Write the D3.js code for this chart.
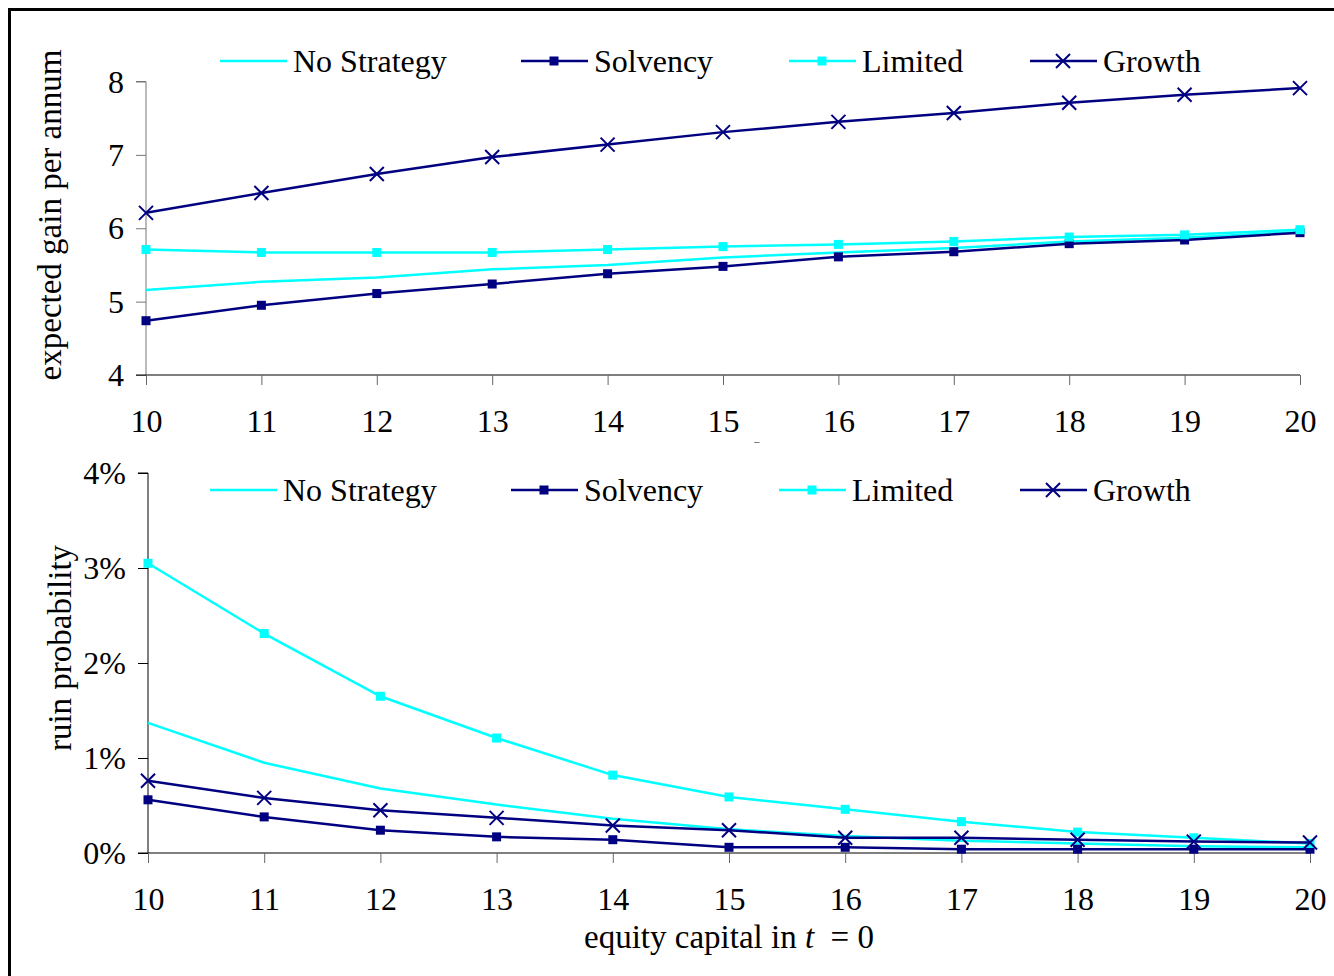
<!DOCTYPE html>
<html lang="en">
<head>
<meta charset="UTF-8">
<title>gain and ruin</title>
<script src="https://cdn.jsdelivr.net/npm/d3@7"></script>
<style>
    body { margin: 0; background: #fff; }
    text { font-family: "Liberation Serif", "Times New Roman", serif; fill: #000; }
    .tick text { font-size: 32px; }
</style>
</head>
<body>
<svg class="chart"></svg>
<script>
    // data
    var capital = [10, 11, 12, 13, 14, 15, 16, 17, 18, 19, 20]
    var seriesNames = ["No Strategy", "Solvency", "Limited", "Growth"]

    // expected gain per annum
    var gainNoStrategy = [5.16, 5.27, 5.33, 5.44, 5.50, 5.60, 5.67, 5.73, 5.82, 5.87, 5.95]
    var gainSolvency   = [4.74, 4.95, 5.11, 5.24, 5.38, 5.48, 5.61, 5.68, 5.79, 5.84, 5.94]
    var gainLimited    = [5.71, 5.67, 5.67, 5.67, 5.71, 5.75, 5.78, 5.82, 5.88, 5.91, 5.98]
    var gainGrowth     = [6.21, 6.48, 6.74, 6.97, 7.14, 7.31, 7.45, 7.57, 7.71, 7.82, 7.91]
    var gainTicks = [4, 5, 6, 7, 8]

    // ruin probability (%)
    var ruinNoStrategy = [1.37, 0.95, 0.68, 0.51, 0.36, 0.25, 0.18, 0.13, 0.10, 0.07, 0.06]
    var ruinSolvency   = [0.56, 0.38, 0.24, 0.17, 0.14, 0.06, 0.06, 0.04, 0.04, 0.04, 0.04]
    var ruinLimited    = [3.05, 2.31, 1.65, 1.21, 0.82, 0.59, 0.46, 0.33, 0.22, 0.16, 0.10]
    var ruinGrowth     = [0.76, 0.58, 0.45, 0.37, 0.29, 0.24, 0.16, 0.16, 0.14, 0.12, 0.11]
    var ruinTicks = [0, 1, 2, 3, 4]

    var cyan = "#00ffff", navy = "#000080"
    var styles = {
        "No Strategy": {color: cyan, marker: "none"},
        "Solvency": {color: navy, marker: "square"},
        "Limited": {color: cyan, marker: "square"},
        "Growth": {color: navy, marker: "cross"}
    }

    var W = 1334, H = 976
    var svg = d3.select(".chart").attr("width", W).attr("height", H)

    function drawMarker(g, type, x, y, color) {
        if (type == "square") {
            g.append("rect").attr("x", x - 4.5).attr("y", y - 4.5)
                .attr("width", 9).attr("height", 9).attr("fill", color)
        } else if (type == "cross") {
            var s = 7
            g.append("path")
                .attr("d", "M" + (x - s) + "," + (y - s) + "L" + (x + s) + "," + (y + s) +
                    "M" + (x - s) + "," + (y + s) + "L" + (x + s) + "," + (y - s))
                .attr("stroke", color).attr("stroke-width", 2).attr("fill", "none")
        }
    }

    function panel(opt) {
        var g = svg.append("g")

        var x = d3.scaleLinear().domain([10, 20]).range([opt.left, opt.right])
        var y = d3.scaleLinear().domain(opt.yDomain).range([opt.bottom, opt.top])

        // y axis
        var yAxis = d3.axisLeft(y).tickValues(opt.yTicks).tickSize(10).tickPadding(12)
            .tickFormat(opt.yFormat)
        var ya = g.append("g").attr("transform", "translate(" + opt.left + ",0)").call(yAxis)
        ya.selectAll("path, line").attr("stroke", opt.yAxisColor)
        ya.select(".domain").attr("d", "M-10," + opt.top + "H0V" + opt.bottom)
        ya.selectAll("text").attr("font-family", null).attr("font-size", null).attr("dy", "0.33em")

        // x axis
        var xAxis = d3.axisBottom(x).tickValues(capital).tickSize(10).tickPadding(24)
            .tickSizeOuter(0).tickFormat(d3.format("d"))
        var xa = g.append("g").attr("transform", "translate(0," + opt.bottom + ")").call(xAxis)
        xa.select(".domain").attr("stroke", "#000").attr("d", "M" + (opt.left - 10) + ",0H" + opt.right)
        xa.selectAll(".tick line").attr("stroke", "#666")
        xa.selectAll("text").attr("font-family", null).attr("font-size", null)

        // y title
        g.append("text")
            .attr("transform", "translate(" + opt.titleX + "," + opt.titleY + ") rotate(-90)")
            .attr("text-anchor", "middle")
            .style("font-size", "33px")
            .text(opt.yTitle)

        // lines
        var line = d3.line()
            .x(function (d, i) { return x(capital[i]) })
            .y(function (d) { return y(d) })

        opt.series.forEach(function (vals, k) {
            var st = styles[seriesNames[k]]
            g.append("path").datum(vals)
                .attr("d", line).attr("fill", "none")
                .attr("stroke", st.color).attr("stroke-width", 2.5)
            vals.forEach(function (v, i) {
                drawMarker(g, st.marker, x(capital[i]), y(v), st.color)
            })
        })

        // legend
        seriesNames.forEach(function (name, k) {
            var st = styles[name]
            var lx = opt.legendX[k], ly = opt.legendY
            g.append("line").attr("x1", lx).attr("x2", lx + 67)
                .attr("y1", ly).attr("y2", ly)
                .attr("stroke", st.color).attr("stroke-width", 2.5)
            drawMarker(g, st.marker, lx + 33, ly, st.color)
            g.append("text").attr("x", lx + 73).attr("y", ly).attr("dy", "0.33em")
                .style("font-size", "32px").text(name)
        })
        return g
    }

    // clipped x title of the upper chart, hidden by the lower chart
    svg.append("text").attr("x", 729).attr("y", 466).attr("text-anchor", "middle")
        .style("font-size", "33px")
        .html('equity capital in <tspan font-style="italic">t</tspan> &#160;= 0')

    panel({
        left: 146, right: 1300, top: 81.5, bottom: 375,
        yDomain: [4, 8], yTicks: gainTicks, yFormat: d3.format("d"),
        yAxisColor: "#777",
        yTitle: "expected gain per annum", titleX: 61, titleY: 215,
        series: [gainNoStrategy, gainSolvency, gainLimited, gainGrowth],
        legendX: [220, 521, 789, 1030], legendY: 61
    })

    svg.append("rect").attr("x", 12).attr("y", 443).attr("width", W).attr("height", H)
        .attr("fill", "#fff")

    panel({
        left: 148, right: 1310, top: 473, bottom: 853,
        yDomain: [0, 4], yTicks: ruinTicks, yFormat: function (d) { return d + "%" },
        yAxisColor: "#000",
        yTitle: "ruin probability", titleX: 71, titleY: 648,
        series: [ruinNoStrategy, ruinSolvency, ruinLimited, ruinGrowth],
        legendX: [210, 511, 779, 1020], legendY: 490
    })

    svg.append("text").attr("x", 729).attr("y", 948).attr("text-anchor", "middle")
        .style("font-size", "33px")
        .html('equity capital in <tspan font-style="italic">t</tspan> &#160;= 0')

    // outer frame
    svg.append("path").attr("d", "M9.5," + (H + 10) + "V9.5H" + (W + 10))
        .attr("fill", "none").attr("stroke", "#000").attr("stroke-width", 3)
</script>
</body>
</html>
